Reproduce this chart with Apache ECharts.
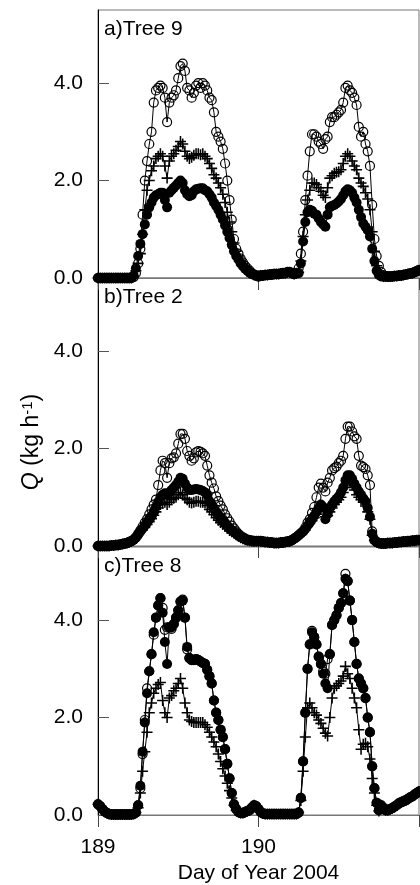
<!DOCTYPE html>
<html>
<head>
<meta charset="utf-8">
<title>Q - Day of Year 2004</title>
<script src="https://cdn.jsdelivr.net/npm/echarts@6/dist/echarts.min.js"></script>
<style>
    html, body { margin: 0; padding: 0; background: #fff; }
    #chart { width: 420px; height: 885px; }
</style>
</head>
<body>
<div id="chart"></div>
<script>
// samples every 20 min, from day 189.0 to 191.0 (145 points)
const dayStart = 189;
const samplesPerDay = 72;

// a) Tree 9
const aOpen = [
    0, 0, 0, 0, 0, 0, 0, 0, 0, 0, 0, 0,
    0, 0, 0, 0, 0.02, 0.1, 0.3, 0.6, 1.3, 2.0, 2.4, 2.75,
    3.0, 3.6, 3.85, 3.9, 3.95, 3.9, 3.7, 3.2, 3.6, 3.7, 3.75, 3.85,
    4.1, 4.35, 4.4, 4.25, 3.9, 3.85, 3.7, 3.8, 3.95, 4.0, 3.9, 4.0,
    3.95, 3.85, 3.7, 3.65, 3.4, 3.0, 2.9, 2.8, 2.65, 2.35, 2.0, 1.6,
    1.2, 0.8, 0.6, 0.5, 0.4, 0.32, 0.25, 0.2, 0.15, 0.1, 0.07, 0.05,
    0.03, 0.05, 0.05, 0.06, 0.06, 0.07, 0.07, 0.08, 0.08, 0.08, 0.09, 0.1,
    0.1, 0.12, 0.12, 0.1, 0.08, 0.1, 0.2, 0.5, 0.95, 1.6, 2.1, 2.6,
    2.95, 2.95, 2.9, 2.8, 2.75, 2.65, 2.85, 2.9, 3.2, 3.3, 3.3, 3.35,
    3.4, 3.45, 3.6, 3.9, 3.95, 3.85, 3.8, 3.7, 3.55, 3.1, 2.9, 3.0,
    2.75, 2.6, 2.3, 1.5, 0.8, 0.45, 0.25, 0.12, 0.06, 0.03, 0.03, 0.03,
    0.03, 0.04, 0.04, 0.05, 0.05, 0.06, 0.07, 0.08, 0.09, 0.1, 0.12, 0.14,
    0.16
];
const aPlus = [
    0, 0, 0, 0, 0, 0, 0, 0, 0, 0, 0, 0,
    0, 0, 0, 0, 0.03, 0.15, 0.3, 0.5, 0.9, 1.4, 1.8, 2.0,
    2.2, 2.3, 2.45, 2.5, 2.55, 2.5, 2.3, 2.05, 2.4, 2.5, 2.55, 2.62,
    2.7, 2.8, 2.75, 2.6, 2.5, 2.45, 2.48, 2.52, 2.55, 2.55, 2.53, 2.55,
    2.5, 2.45, 2.35, 2.25, 2.12, 2.05, 1.95, 1.85, 1.72, 1.55, 1.35, 1.15,
    0.95, 0.72, 0.55, 0.45, 0.36, 0.28, 0.22, 0.17, 0.12, 0.09, 0.06, 0.05,
    0.04, 0.05, 0.05, 0.06, 0.06, 0.07, 0.07, 0.08, 0.08, 0.08, 0.09, 0.1,
    0.1, 0.12, 0.12, 0.1, 0.08, 0.1, 0.12, 0.35, 0.85, 1.3, 1.6, 1.8,
    1.95, 1.95, 1.92, 1.85, 1.78, 1.7, 1.65, 1.85, 2.05, 2.1, 2.15, 2.17,
    2.18, 2.22, 2.35, 2.5, 2.55, 2.5, 2.4, 2.3, 2.22, 2.05, 1.95, 1.88,
    1.75, 1.62, 1.4, 0.95, 0.55, 0.25, 0.1, 0.05, 0.03, 0.03, 0.03, 0.03,
    0.03, 0.04, 0.04, 0.05, 0.05, 0.06, 0.07, 0.08, 0.09, 0.1, 0.12, 0.14,
    0.16
];
const aFill = [
    0, 0, 0, 0, 0, 0, 0, 0, 0, 0, 0, 0,
    0, 0, 0, 0, 0.05, 0.2, 0.45, 0.7, 0.9, 1.1, 1.3, 1.45,
    1.55, 1.65, 1.7, 1.72, 1.75, 1.75, 1.6, 1.45, 1.75, 1.8, 1.85, 1.9,
    1.95, 2.0, 1.95, 1.8, 1.72, 1.68, 1.7, 1.78, 1.82, 1.83, 1.84, 1.84,
    1.8, 1.78, 1.72, 1.65, 1.55, 1.48, 1.4, 1.3, 1.2, 1.08, 0.95, 0.82,
    0.68, 0.55, 0.45, 0.38, 0.3, 0.24, 0.19, 0.15, 0.11, 0.08, 0.06, 0.05,
    0.04, 0.05, 0.05, 0.06, 0.06, 0.07, 0.07, 0.08, 0.08, 0.08, 0.09, 0.1,
    0.1, 0.12, 0.12, 0.1, 0.08, 0.1, 0.1, 0.3, 0.75, 1.15, 1.35, 1.4,
    1.38, 1.32, 1.3, 1.22, 1.15, 1.1, 1.05, 1.3, 1.45, 1.48, 1.5, 1.53,
    1.57, 1.62, 1.7, 1.78, 1.82, 1.8, 1.75, 1.65, 1.55, 1.4, 1.25, 1.12,
    1.05, 0.98, 0.85, 0.6, 0.35, 0.15, 0.06, 0.03, 0.03, 0.03, 0.03, 0.03,
    0.03, 0.04, 0.04, 0.05, 0.05, 0.06, 0.07, 0.08, 0.09, 0.1, 0.12, 0.14,
    0.16
];

// b) Tree 2
const bOpen = [
    0, 0, 0, 0, 0, 0, 0.01, 0.01, 0.02, 0.02, 0.03, 0.04,
    0.05, 0.06, 0.08, 0.1, 0.13, 0.18, 0.25, 0.32, 0.4, 0.48, 0.55, 0.65,
    0.75, 0.85, 0.95, 1.25, 1.55, 1.75, 1.7, 1.4, 1.7, 1.8, 1.82, 1.9,
    2.1, 2.3, 2.3, 2.2, 1.95, 1.85, 1.75, 1.8, 1.92, 1.95, 1.93, 1.9,
    1.85, 1.65, 1.45, 1.3, 1.18, 1.02, 0.92, 0.83, 0.75, 0.65, 0.57, 0.5,
    0.42, 0.36, 0.3, 0.25, 0.21, 0.18, 0.15, 0.13, 0.12, 0.11, 0.1, 0.1,
    0.1, 0.1, 0.09, 0.08, 0.08, 0.07, 0.07, 0.06, 0.06, 0.06, 0.07, 0.07,
    0.08, 0.09, 0.1, 0.12, 0.15, 0.18, 0.22, 0.26, 0.3, 0.38, 0.48, 0.55,
    0.68, 0.8, 1.0, 1.2, 1.28, 1.2, 1.12, 1.3, 1.4, 1.55, 1.6, 1.63,
    1.7, 1.75, 1.85, 2.2, 2.45, 2.45, 2.35, 2.25, 2.2, 1.85, 1.65, 1.62,
    1.58, 1.45, 1.25, 0.3, 0.12, 0.08, 0.06, 0.05, 0.05, 0.05, 0.06, 0.06,
    0.06, 0.07, 0.07, 0.08, 0.08, 0.09, 0.09, 0.1, 0.1, 0.11, 0.11, 0.12,
    0.12
];
const bPlus = [
    0, 0, 0, 0, 0, 0, 0.01, 0.01, 0.02, 0.02, 0.03, 0.04,
    0.05, 0.06, 0.08, 0.1, 0.13, 0.17, 0.23, 0.3, 0.33, 0.38, 0.44, 0.5,
    0.56, 0.63, 0.7, 0.78, 0.85, 0.88, 0.9, 0.85, 0.9, 0.95, 0.98, 1.0,
    1.05, 1.1, 1.05, 0.98, 0.95, 0.9, 0.88, 0.9, 0.92, 0.92, 0.9, 0.9,
    0.88, 0.83, 0.75, 0.7, 0.64, 0.58, 0.53, 0.48, 0.44, 0.4, 0.36, 0.32,
    0.29, 0.26, 0.23, 0.2, 0.17, 0.15, 0.13, 0.12, 0.11, 0.1, 0.1, 0.1,
    0.1, 0.1, 0.09, 0.08, 0.08, 0.07, 0.07, 0.06, 0.06, 0.06, 0.07, 0.07,
    0.08, 0.09, 0.1, 0.12, 0.15, 0.18, 0.22, 0.26, 0.3, 0.33, 0.4, 0.46,
    0.52, 0.58, 0.65, 0.72, 0.78, 0.75, 0.6, 0.62, 0.7, 0.78, 0.85, 0.9,
    0.95, 1.0, 1.1, 1.2, 1.3, 1.3, 1.25, 1.15, 1.05, 1.0, 0.95, 0.9,
    0.82, 0.7, 0.55, 0.22, 0.12, 0.08, 0.06, 0.05, 0.05, 0.05, 0.06, 0.06,
    0.06, 0.07, 0.07, 0.08, 0.08, 0.09, 0.09, 0.1, 0.1, 0.11, 0.11, 0.12,
    0.12
];
const bFill = [
    0, 0, 0, 0, 0, 0, 0.01, 0.01, 0.02, 0.02, 0.03, 0.04,
    0.05, 0.06, 0.08, 0.1, 0.13, 0.17, 0.23, 0.3, 0.36, 0.42, 0.48, 0.55,
    0.62, 0.7, 0.8, 0.9, 1.0, 1.05, 1.08, 1.05, 1.1, 1.15, 1.2, 1.25,
    1.32, 1.4, 1.38, 1.28, 1.2, 1.15, 1.15, 1.16, 1.17, 1.16, 1.15, 1.13,
    1.1, 1.05, 0.92, 0.85, 0.78, 0.7, 0.64, 0.58, 0.53, 0.47, 0.42, 0.37,
    0.33, 0.29, 0.25, 0.21, 0.18, 0.16, 0.14, 0.12, 0.11, 0.1, 0.1, 0.1,
    0.1, 0.1, 0.09, 0.08, 0.08, 0.07, 0.07, 0.06, 0.06, 0.06, 0.07, 0.07,
    0.08, 0.09, 0.1, 0.12, 0.15, 0.18, 0.22, 0.26, 0.3, 0.35, 0.42, 0.48,
    0.55, 0.62, 0.7, 0.78, 0.85, 0.8, 0.55, 0.65, 0.78, 0.85, 0.92, 0.97,
    1.02, 1.1, 1.2, 1.35, 1.45, 1.45, 1.38, 1.28, 1.2, 1.12, 1.05, 0.98,
    0.92, 0.78, 0.6, 0.25, 0.12, 0.08, 0.06, 0.05, 0.05, 0.05, 0.06, 0.06,
    0.06, 0.07, 0.07, 0.08, 0.08, 0.09, 0.09, 0.1, 0.1, 0.11, 0.11, 0.12,
    0.12
];

// c) Tree 8
const cOpen = [
    0.22, 0.18, 0.12, 0.07, 0.04, 0.02, 0.01, 0.01, 0.01, 0.01, 0.01, 0.01,
    0.01, 0.01, 0.01, 0.01, 0.02, 0.05, 0.2, 0.55, 1.25, 1.95, 2.6, 2.95,
    3.3, 3.7, 4.05, 4.3, 4.45, 4.25, 3.8, 3.85, 3.85, 3.82, 3.92, 4.05,
    4.2, 4.38, 4.42, 4.05, 3.4, 3.22, 3.18, 3.18, 3.2, 3.18, 3.15, 3.12,
    3.1, 2.98, 2.85, 2.7, 2.35, 2.1, 1.95, 1.75, 1.6, 1.35, 1.05, 0.75,
    0.45, 0.22, 0.12, 0.06, 0.04, 0.04, 0.06, 0.08, 0.1, 0.15, 0.2, 0.18,
    0.12, 0.06, 0.03, 0.02, 0.02, 0.02, 0.02, 0.02, 0.02, 0.02, 0.02, 0.02,
    0.02, 0.02, 0.02, 0.02, 0.02, 0.02, 0.05, 0.35, 1.1, 2.1, 3.0, 3.5,
    3.78, 3.65, 3.5, 3.25, 3.1, 2.95, 2.9, 3.2, 3.3, 3.9, 4.0, 4.1,
    4.25, 4.35, 4.55, 4.95, 4.8, 4.4, 4.0, 3.55, 3.1, 2.8, 2.7, 2.6,
    2.4, 2.0, 1.7, 1.0, 0.55, 0.25, 0.1, 0.2, 0.15, 0.1, 0.1, 0.12,
    0.14, 0.17, 0.2, 0.24, 0.26, 0.28, 0.3, 0.33, 0.36, 0.38, 0.42, 0.45,
    0.48
];
const cPlus = [
    0.22, 0.18, 0.12, 0.07, 0.04, 0.02, 0.01, 0.01, 0.01, 0.01, 0.01, 0.01,
    0.01, 0.01, 0.01, 0.01, 0.02, 0.05, 0.15, 0.45, 0.9, 1.3, 1.7, 2.1,
    2.3, 2.5, 2.6, 2.68, 2.72, 2.35, 2.1, 2.0, 2.4, 2.45, 2.55, 2.6,
    2.7, 2.8, 2.6, 2.3, 2.1, 1.95, 1.92, 1.9, 1.9, 1.9, 1.9, 1.9,
    1.85, 1.8, 1.7, 1.6, 1.5, 1.4, 1.25, 1.1, 0.95, 0.8, 0.65, 0.5,
    0.35, 0.2, 0.1, 0.06, 0.04, 0.04, 0.06, 0.08, 0.1, 0.15, 0.2, 0.18,
    0.12, 0.06, 0.03, 0.02, 0.02, 0.02, 0.02, 0.02, 0.02, 0.02, 0.02, 0.02,
    0.02, 0.02, 0.02, 0.02, 0.02, 0.02, 0.05, 0.3, 0.9, 1.6, 2.2, 2.3,
    2.2, 2.1, 2.05, 1.95, 1.88, 1.78, 1.68, 1.62, 2.0, 2.4, 2.6, 2.65,
    2.7, 2.75, 2.85, 3.05, 2.9, 2.8, 2.6, 2.4, 2.2, 1.75, 1.35, 1.45,
    1.47, 1.4, 1.15, 0.75, 0.45, 0.2, 0.08, 0.2, 0.15, 0.1, 0.1, 0.12,
    0.14, 0.17, 0.2, 0.24, 0.26, 0.28, 0.3, 0.33, 0.36, 0.38, 0.42, 0.45,
    0.48
];
const cFill = [
    0.22, 0.18, 0.12, 0.07, 0.04, 0.02, 0.01, 0.01, 0.01, 0.01, 0.01, 0.01,
    0.01, 0.01, 0.01, 0.01, 0.02, 0.05, 0.2, 0.6, 1.3, 1.9, 2.5, 2.95,
    3.3, 3.75, 4.05, 4.3, 4.45, 4.15, 3.55, 3.1, 3.85, 3.85, 3.92, 4.05,
    4.2, 4.38, 4.4, 4.05, 3.45, 3.22, 3.18, 3.18, 3.2, 3.18, 3.15, 3.12,
    3.1, 2.98, 2.85, 2.7, 2.35, 2.1, 1.95, 1.75, 1.6, 1.35, 1.05, 0.75,
    0.45, 0.22, 0.12, 0.06, 0.04, 0.04, 0.06, 0.08, 0.1, 0.15, 0.2, 0.18,
    0.12, 0.06, 0.03, 0.02, 0.02, 0.02, 0.02, 0.02, 0.02, 0.02, 0.02, 0.02,
    0.02, 0.02, 0.02, 0.02, 0.02, 0.02, 0.05, 0.35, 1.1, 2.1, 3.0, 3.5,
    3.75, 3.65, 3.5, 3.25, 3.1, 2.9, 2.7, 2.6, 3.3, 3.9, 4.0, 4.1,
    4.25, 4.35, 4.55, 4.85, 4.8, 4.4, 4.0, 3.55, 3.1, 2.8, 2.7, 2.6,
    2.4, 2.0, 1.7, 1.0, 0.55, 0.25, 0.1, 0.2, 0.15, 0.1, 0.1, 0.12,
    0.14, 0.17, 0.2, 0.24, 0.26, 0.28, 0.3, 0.33, 0.36, 0.38, 0.42, 0.45,
    0.48
];

const panelNames = ['a)Tree 9', 'b)Tree 2', 'c)Tree 8'];
const xTicks = [189, 190, 191];
const xLabels = [189, 190];
const yTicks = [0, 2, 4];

const font = '"Liberation Sans", Arial, sans-serif';
const panelTop = [10, 278, 547];
const panelHeight = 268;
// plus sign marker
const plusPath = 'path://M4.3,0H5.7V4.3H10V5.7H5.7V10H4.3V5.7H0V4.3H4.3Z';

const days = aOpen.map((v, i) => dayStart + i / samplesPerDay);

function lineSeries(idx, vals, symbol, size, fill, border) {
    return {
        type: 'line',
        xAxisIndex: idx,
        yAxisIndex: idx,
        data: vals.map((v, i) => [days[i], v]),
        symbol: symbol,
        symbolSize: size,
        showSymbol: true,
        lineStyle: { color: '#000', width: 1 },
        itemStyle: { color: fill, borderColor: '#000', borderWidth: border },
        emphasis: { disabled: true },
        silent: true,
    };
}

const panels = [
    { open: aOpen, plus: aPlus, fill: aFill },
    { open: bOpen, plus: bPlus, fill: bFill },
    { open: cOpen, plus: cPlus, fill: cFill },
];

let series = [];
panels.forEach((p, i) => {
    series.push(lineSeries(i, p.open, 'circle', 9, 'rgba(0,0,0,0)', 1.2));
    series.push(lineSeries(i, p.plus, plusPath, 11, '#000', 0));
    series.push(lineSeries(i, p.fill, 'circle', 10, '#000', 0));
});

const option = {
    animation: false,
    backgroundColor: '#fff',
    grid: panelTop.map(t => ({
        left: 98,
        right: 1,
        top: t,
        height: panelHeight,
        show: true,
        borderColor: '#777',
        borderWidth: 1,
    })),
    xAxis: panelTop.map((t, i) => ({
        gridIndex: i,
        type: 'value',
        min: 189,
        max: 191,
        interval: 1,
        axisLine: { lineStyle: { color: '#777', width: 1 } },
        axisTick: { inside: false, length: 12, customValues: xTicks, lineStyle: { color: '#444' } },
        axisLabel: {
            show: i === 2,
            customValues: xLabels,
            margin: 22,
            fontSize: 21,
            color: '#000',
            fontFamily: font,
        },
        splitLine: { show: false },
        name: i === 2 ? 'Day of Year 2004' : '',
        nameLocation: 'middle',
        nameGap: 48,
        nameTextStyle: { fontSize: 21, color: '#000', fontFamily: font },
    })),
    yAxis: panelTop.map((t, i) => ({
        gridIndex: i,
        type: 'value',
        min: 0,
        max: 5.5,
        axisLine: { show: true, lineStyle: { color: '#000', width: 1 } },
        axisTick: { show: true, inside: true, length: 11, customValues: yTicks, lineStyle: { color: '#555' } },
        axisLabel: {
            customValues: yTicks,
            formatter: v => v.toFixed(1),
            margin: 15,
            fontSize: 21,
            color: '#000',
            fontFamily: font,
        },
        splitLine: { show: false },
    })),
    graphic: panelNames.map((txt, i) => ({
        type: 'text',
        left: 104,
        top: panelTop[i] + 9,
        style: { text: txt, fontSize: 21, fontFamily: font, fill: '#000' },
    })).concat([{
        type: 'text',
        x: 32,
        y: 442,
        rotation: Math.PI / 2,
        style: {
            text: '{q|Q} (kg h{s|-1})',
            align: 'center',
            verticalAlign: 'middle',
            fontSize: 23,
            fontFamily: font,
            fill: '#000',
            rich: {
                q: { fontSize: 23, fontStyle: 'italic', fontFamily: font },
                s: { fontSize: 15, verticalAlign: 'top', fontFamily: font },
            },
        },
    }]),
    series: series,
};

const myChart = echarts.init(document.getElementById('chart'), null, { renderer: 'canvas' });
myChart.setOption(option);
</script>
</body>
</html>
